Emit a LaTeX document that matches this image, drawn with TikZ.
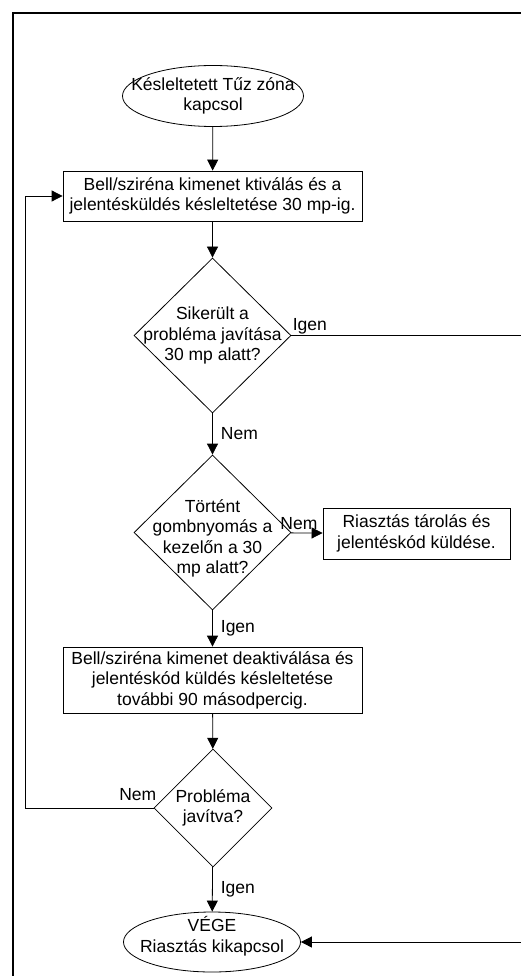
\documentclass[tikz,border=0pt]{standalone}
\usepackage{fontspec}
\setmainfont{Liberation Sans}
\usepackage{tikz}
\usetikzlibrary{shapes.geometric,arrows.meta,positioning}

\begin{document}
\begin{tikzpicture}[
			x=1pt, y=-1pt,
			font=\fontsize{17.5}{20.5}\selectfont,
			process/.style={rectangle, draw, line width=0.8pt, align=center, inner sep=0pt},
			decision/.style={diamond, draw, line width=0.8pt, inner sep=0pt},
			terminal/.style={ellipse, draw, line width=0.8pt, inner sep=0pt},
			flowtext/.style={align=center, inner sep=0pt},
			answer/.style={inner sep=1pt},
			arrow/.style={-{Triangle[length=11pt,width=11pt]}, line width=0.8pt},
			line/.style={line width=0.8pt},
			frame/.style={line width=2.2pt}
			]
			
			\useasboundingbox (0,0) rectangle (521,976);
			
			% Frame
			\draw[frame] (13,976) -- (13,13) -- (521,13);
			
			% Start
			\node[terminal, minimum width=181pt, minimum height=61pt] (start) at (213,96) {};
			\node[flowtext] (starttxt) at (start) {Késleltetett Tűz zóna\\kapcsol};
			
			% First delay
			\node[process, minimum width=299pt, minimum height=50pt] (delay30) at (212.5,196) {Bell/sziréna kimenet ktiválás és a\\jelentésküldés késleltetése 30 mp-ig.};
			
			% Decisions
			\node[decision, minimum width=157pt, minimum height=155pt] (fixed30) at (212.5,335.5) {};
			\node[flowtext] (fixed30txt) at (fixed30) {Sikerült a\\probléma javítása\\30 mp alatt?};
			
			\node[decision, minimum width=157pt, minimum height=155pt] (pressed) at (212.5,532.5) {};
			\node[flowtext] (pressedtxt) at ([yshift=-6pt]pressed.center) {Történt\\gombnyomás a\\kezelőn a 30\\mp alatt?};
			
			% Alarm store
			\node[process, minimum width=187pt, minimum height=51pt] (store) at (416.5,533.5) {Riasztás tárolás és\\jelentéskód küldése.};
			
			% Second delay
			\node[process, minimum width=299pt, minimum height=66pt] (delay90) at (212.5,680) {Bell/sziréna kimenet deaktiválása és\\jelentéskód küldés késleltetése\\további 90 másodpercig.};
			
			\node[decision, minimum width=118pt, minimum height=118pt] (fixed) at (213,808) {};
			\node[flowtext] (fixedtxt) at (fixed) {Probléma\\javítva?};
			
			% End
			\node[terminal, minimum width=177pt, minimum height=60pt] (stop) at (212,942) {};
			\node[flowtext] (stoptxt) at ([yshift=6pt]stop.center) {VÉGE\\Riasztás kikapcsol};
			
			% Free ends
			\coordinate (loopleft) at (25,808);
			\coordinate (edgehi) at (521,335.5);
			\coordinate (edgelo) at (521,942);
			
			% Connections
			\draw[arrow] (start) -- (delay30);
			\draw[arrow] (delay30) -- (fixed30);
			\draw[line] (fixed30.east) -- node[answer, pos=0, above right] {Igen} (edgehi);
			\draw[arrow] (fixed30) -- node[answer, right=7pt] {Nem} (pressed);
			\draw[arrow] (pressed) -- node[answer, pos=0.25, above, yshift=2pt] {Nem} (store);
			\draw[arrow] (pressed) -- node[answer, right=7pt] {Igen} (delay90);
			\draw[arrow] (delay90) -- (fixed);
			\draw[arrow] (fixed.west) -- node[answer, pos=0, above left, xshift=4pt, yshift=6pt] {Nem} (loopleft) |- (delay30.west);
			\draw[arrow] (fixed) -- node[answer, right=7pt] {Igen} (stop);
			\draw[arrow] (edgelo) -- (stop.east);
			
		\end{tikzpicture}
\end{document}
